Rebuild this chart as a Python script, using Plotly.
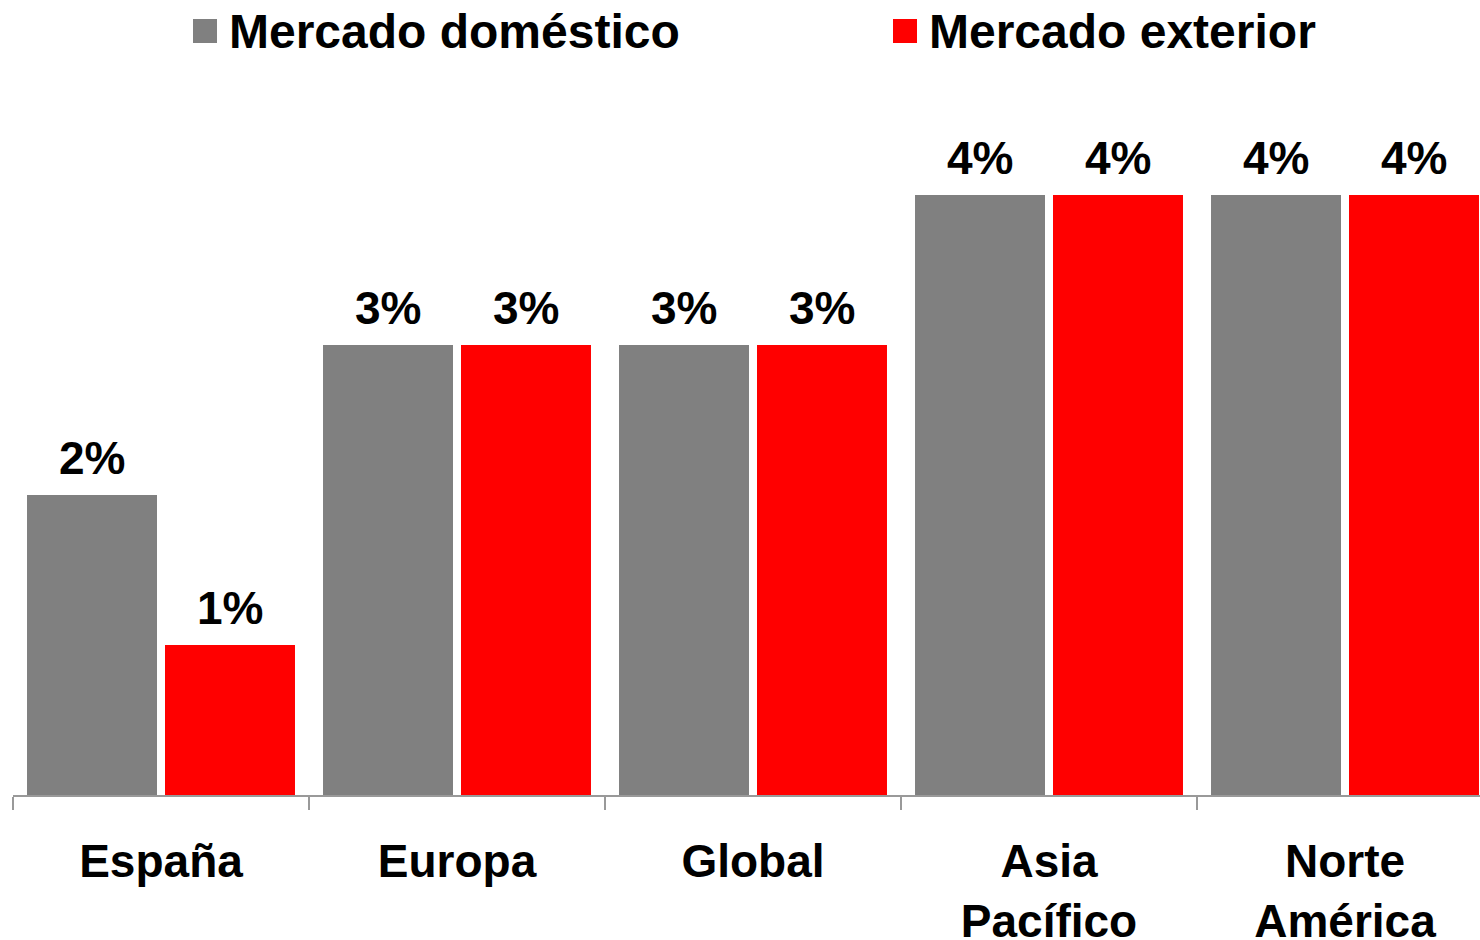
import plotly.graph_objects as go

# Regions and growth rates (%) by market
categorias = ["España", "Europa", "Global", "Asia<br>Pacífico", "Norte<br>América"]
domestico = [2, 3, 3, 4, 4]
exterior = [1, 3, 3, 4, 4]

series = [("Mercado doméstico", domestico, "#808080"),
          ("Mercado exterior", exterior, "#FF0000")]

W, H = 1480, 940
ML, MR, MT, MB = 13, 0, 100, 145
plot_w = W - ML - MR
plot_h = H - MT - MB
cat_px = 296          # width of one category slot in pixels
unit_px = 150         # pixels per percentage point
slot_px = 138         # width of one bar slot inside a group

FONT = "Liberation Sans, Arial, sans-serif"

fig = go.Figure()
for nombre, valores, color in series:
    fig.add_trace(go.Bar(
        x=categorias, y=valores, name=nombre,
        marker=dict(color=color, line=dict(width=0)),
        showlegend=False,
    ))

# Value labels above each bar
for i, (nombre, valores, color) in enumerate(series):
    shift = (i - 0.5) * slot_px
    for cat, v in zip(categorias, valores):
        fig.add_annotation(
            x=cat, y=v, xshift=shift, yshift=9,
            xanchor="center", yanchor="bottom",
            text=f"{v}%", showarrow=False,
            font=dict(family=FONT, size=46, color="black", weight="bold"),
        )

fig.update_layout(
    width=W, height=H,
    margin=dict(l=ML, r=MR, t=MT, b=MB, autoexpand=False),
    paper_bgcolor="white", plot_bgcolor="white",
    barmode="group", bargap=0.0676, bargroupgap=0.058,
)

fig.update_xaxes(
    type="category",
    range=[-0.5, -0.5 + plot_w / cat_px],
    tickson="boundaries", ticks="outside", ticklen=13, tickwidth=1.5,
    tickcolor="#999999",
    showline=True, linecolor="#999999", linewidth=1.5,
    showgrid=False, zeroline=False, automargin=False,
    tickfont=dict(family=FONT, size=46, color="black", weight="bold"),
    ticklabelstandoff=25,
)
fig.update_yaxes(
    range=[0, plot_h / unit_px],
    visible=False, showgrid=False, zeroline=False, automargin=False,
)

# Legend drawn as square swatches with labels above the plot
def px_x(p):
    return (p - ML) / plot_w

def px_y(p):
    return (H - MB - p) / plot_h

leyenda = [(193, 229), (893, 929)]
for (sq_x, txt_x), (nombre, _, color) in zip(leyenda, series):
    fig.add_shape(type="rect", xref="paper", yref="paper",
                  x0=px_x(sq_x), x1=px_x(sq_x + 24),
                  y0=px_y(43), y1=px_y(19),
                  fillcolor=color, line=dict(width=0))
    fig.add_annotation(xref="paper", yref="paper",
                       x=px_x(txt_x - 2), y=px_y(31),
                       xanchor="left", yanchor="middle",
                       text=nombre, showarrow=False,
                       font=dict(family=FONT, size=48, color="black", weight="bold"))

fig.write_html("out.html")
